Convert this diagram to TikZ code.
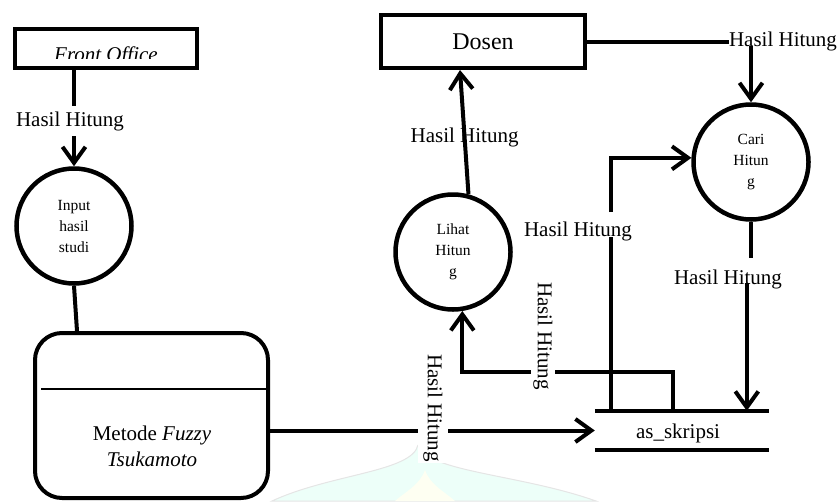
\documentclass[tikz,border=0pt]{standalone}
\usepackage{fontspec}
\setmainfont{Liberation Serif}
\usetikzlibrary{arrows.meta,calc}
\begin{document}
\begin{tikzpicture}[x=1pt,y=-1pt,
  every node/.style={inner sep=0pt},
  plain/.style={line width=4pt},
  flow/.style={line width=4pt,-{Straight Barb[length=16pt,width=23pt]}},
  entity/.style={draw,line width=4pt},
  process/.style={draw,circle,line width=4.5pt,minimum size=115pt,align=center,
    font=\fontsize{15.5}{21}\selectfont},
  lbl/.style={font=\fontsize{21}{25}\selectfont},
  gap/.style={fill=white}
]
\useasboundingbox (0,0) rectangle (840,501);

% faint dome watermark behind the drawing
\fill[green!35!cyan!7,draw=gray!20,line width=1pt]
  (418,445) .. controls (412,472) and (330,474) .. (272,501)
  -- (596,501) .. controls (520,474) and (426,472) .. (418,445);
\fill[green!10!yellow!5!white] (425,470) .. controls (420,485) and (405,492) .. (395,501)
  -- (455,501) .. controls (445,492) and (430,485) .. (425,470);

% external entities
\node[entity,minimum width=182pt,minimum height=39pt] (fo) at (106,48.5) {};
\begin{scope}
  \clip (17,31) rectangle (195,58);
  \node[lbl,anchor=base] (fotext) at (106,61) {\itshape Front Office};
\end{scope}
\node[entity,minimum width=204pt,minimum height=53pt,
  font=\fontsize{24}{28}\selectfont] (dos) at (483,41.5) {Dosen};

% processes
\node[process] (inp) at (74,226) {Input\\hasil\\studi};
\node[process] (lih) at (453,252) {Lihat\\Hitun\\g};
\node[process] (cari) at (751,162) {Cari\\Hitun\\g};

% Metode Fuzzy Tsukamoto
\node[draw,rounded corners=27pt,line width=4pt,minimum width=233pt,
  minimum height=165pt] (met) at (151.5,415.5) {};
\draw[line width=1.6pt] (41,389) -- (267,389);
\node[font=\fontsize{21}{26}\selectfont,align=center] (mettext) at (152,446)
  {Metode \textit{Fuzzy}\\\textit{Tsukamoto}};

% data store
\node[minimum width=174pt,minimum height=39pt] (st) at (682,430.5) {};
\draw[plain] (st.north west) -- (st.north east);
\draw[plain] (st.south west) -- (st.south east);
\node[lbl] (sttext) at (678,433) {as\_skripsi};

% Front Office -> Input hasil studi
\draw[flow] (fo.south -| inp.north) --
  node[lbl,gap,inner xsep=2pt,inner ysep=5pt,pos=0.53,xshift=-4pt] {Hasil Hitung} (inp.north);

% Input hasil studi -- Metode
\draw[plain] (inp.south) -- ($(inp.south |- met.north)+(3,0)$);

% Metode -> as_skripsi
\draw[flow] (met.east |- st.west) -- (st.west);
\node[lbl,gap,rotate=-90,inner xsep=1pt,inner ysep=5pt] (l5) at (433,408) {Hasil Hitung};

% Lihat Hitung -> Dosen
\coordinate (dosin) at ($(dos.south west)+(81,0)$);
\draw[flow] (lih.75) -- node[lbl,pos=0.46] {Hasil Hitung} (dosin);

% Dosen -> Cari Hitung
\node[lbl] (l2) at (783,41.5) {Hasil Hitung};
\draw[plain] (dos.east) -- (l2.west);
\draw[flow] ($(l2.center -| cari.north)+(0,4)$) -- (cari.north);

% Cari Hitung -> as_skripsi
\node[lbl] (l3) at (728,279) {Hasil Hitung};
\draw[plain] (cari.south) -- ++(0,36);
\coordinate (s3) at ($(st.north west)+(152,0)$);
\draw[flow] ($(s3 |- l3.center)+(0,4)$) -- (s3);

% as_skripsi -> Cari Hitung
\node[lbl] (l4) at (578,231) {Hasil Hitung};
\coordinate (s1) at ($(st.north west)+(16,0)$);
\draw[plain] (s1) -- ($(s1 |- l4.center)+(0,6)$);
\draw[flow] ($(s1 |- l4.center)+(0,-19)$) |- (cari.176);

% as_skripsi -> Lihat Hitung
\coordinate (s2) at ($(st.north west)+(78,0)$);
\draw[flow] (s2) -- ++(0,-39) -| (lih.-81);
\node[lbl,gap,rotate=-90,inner xsep=1pt,inner ysep=2pt] (l6) at (543,336) {Hasil Hitung};
\end{tikzpicture}
\end{document}
